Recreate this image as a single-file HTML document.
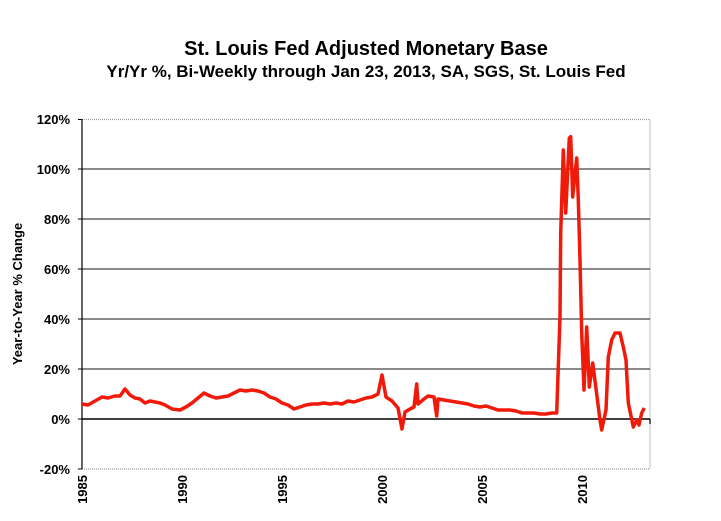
<!DOCTYPE html>
<html><head><style>
body{margin:0;background:#fff;}
svg{display:block;font-family:"Liberation Sans",Arial,sans-serif;font-weight:bold;}
</style></head><body>
<svg width="721" height="521" viewBox="0 0 721 521">
<rect width="721" height="521" fill="#fff"/>
<text x="366" y="55" font-size="20" text-anchor="middle">St. Louis Fed Adjusted Monetary Base</text>
<text x="366" y="77" font-size="17" text-anchor="middle">Yr/Yr %, Bi-Weekly through Jan 23, 2013, SA, SGS, St. Louis Fed</text>
<g stroke="#444" stroke-width="1.2">
<line x1="82" y1="119.5" x2="650" y2="119.5" stroke="#999" stroke-dasharray="1,1"/>
<line x1="82" y1="169" x2="650" y2="169"/>
<line x1="82" y1="219" x2="650" y2="219"/>
<line x1="82" y1="269" x2="650" y2="269"/>
<line x1="82" y1="319" x2="650" y2="319"/>
<line x1="82" y1="369" x2="650" y2="369"/>
<line x1="82" y1="469" x2="650" y2="469" stroke="#999" stroke-dasharray="1,1"/>
<line x1="650" y1="119.5" x2="650" y2="469" stroke="#999" stroke-dasharray="1,1"/>
</g>
<line x1="82" y1="419" x2="650" y2="419" stroke="#000" stroke-width="1.6"/>
<line x1="650" y1="419" x2="650" y2="424" stroke="#000" stroke-width="1.2"/>
<line x1="82" y1="119" x2="82" y2="469" stroke="#000" stroke-width="1.2"/>
<g stroke="#000" stroke-width="1">
<line x1="78" y1="119.5" x2="82" y2="119.5"/><line x1="78" y1="169" x2="82" y2="169"/><line x1="78" y1="219" x2="82" y2="219"/><line x1="78" y1="269" x2="82" y2="269"/><line x1="78" y1="319" x2="82" y2="319"/><line x1="78" y1="369" x2="82" y2="369"/><line x1="78" y1="419" x2="82" y2="419"/><line x1="78" y1="469" x2="82" y2="469"/>
</g>
<g font-size="13" text-anchor="end">
<text x="70" y="124">120%</text><text x="70" y="174">100%</text><text x="70" y="224">80%</text><text x="70" y="274">60%</text><text x="70" y="324">40%</text><text x="70" y="374">20%</text><text x="70" y="424">0%</text><text x="70" y="474">-20%</text>
</g>
<text transform="translate(22,294) rotate(-90)" font-size="13" text-anchor="middle">Year-to-Year % Change</text>
<g font-size="13" text-anchor="end">
<text transform="translate(87,475) rotate(-90)">1985</text>
<text transform="translate(187,475) rotate(-90)">1990</text>
<text transform="translate(287,475) rotate(-90)">1995</text>
<text transform="translate(387,475) rotate(-90)">2000</text>
<text transform="translate(487,475) rotate(-90)">2005</text>
<text transform="translate(587,475) rotate(-90)">2010</text>
</g>
<polyline fill="none" stroke="#f01a0a" stroke-width="3.5" stroke-linejoin="round" points="
82,404 88,405 95,401 102,397 108,398 115,396 120,396 125,389 130,395 135,398 140,399 145,403 150,401 155,402 160,403 165,405 172,409 180,410 186,407 192,403 198,398 204,393 210,396 216,398 222,397 228,396 234,393 240,390 246,391 252,390 258,391 264,393 270,397 276,399 282,403 288,405 294,409 300,407 306,405 312,404 318,404 324,403 330,404 336,403 342,404 348,401 354,402 360,400 366,398 372,397 378,394 382,375 386,397 392,401 398,408 402,429 405,412 410,409 414,407 416.7,384 418,404 424,399 428,396 434,397 436.7,416 438,399 444,400 450,401 456,402 462,403 468,404 474,406 480,407 486,406 492,408 498,410 504,410 510,410 516,411 522,413 528,413 534,413 540,414 546,414 552,413 556.7,413 560,317 560.7,233 563.3,150 565.7,213 569.3,138 570.7,136.7 572.7,197 576.7,158 578.3,200 580,260 581.7,333 584,390 586.7,327 589.3,387 592.7,363 594,373 600,420 601.7,430 606,410 608.3,357 611.7,340 615,333 620,333 623.3,347 626,360 628.3,403 633.3,427 636.7,420 639,425 641.7,413 644.3,408"/>
</svg>
</body></html>
